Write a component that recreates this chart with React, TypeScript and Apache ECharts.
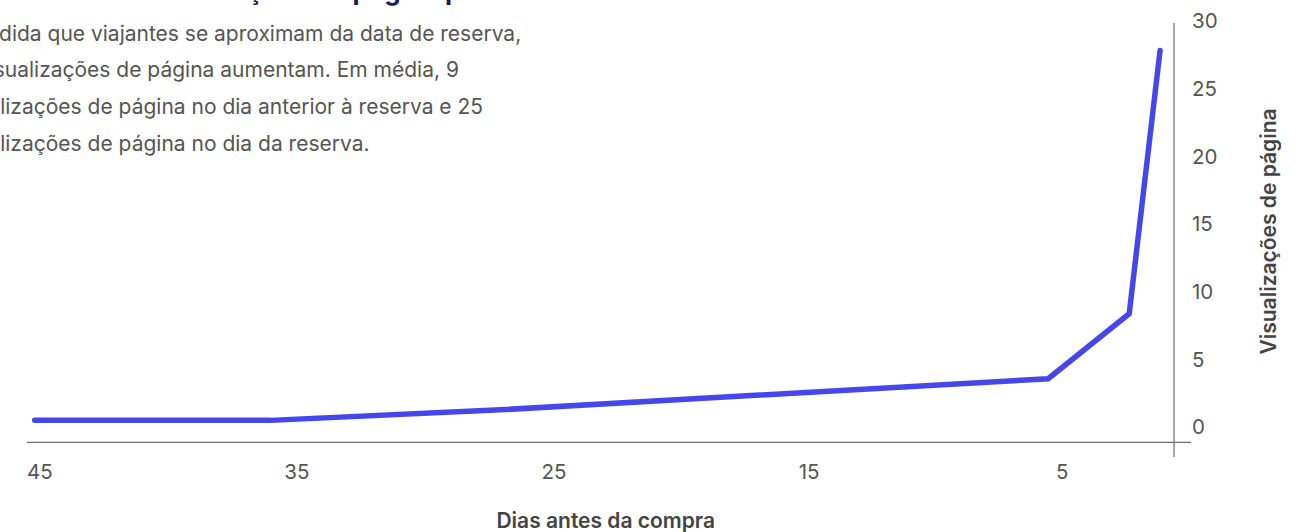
import { useEffect, useRef } from "react";
import * as echarts from "echarts";

// Page views by days before purchase
const daysBefore = [44.7, 35.55, 26.6, 5.3, 2.15, 0.95];
const pageViews = [0.47, 0.47, 1.25, 3.55, 8.35, 27.8];

const xTickValues = [45, 35, 25, 15, 5];
const yTickValues = [0, 5, 10, 15, 20, 25, 30];

const titleText = "Aumento nas visualizações de página por dia";
const bodyLines = [
  "À medida que viajantes se aproximam da data de reserva,",
  "as visualizações de página aumentam. Em média, 9",
  "visualizações de página no dia anterior à reserva e 25",
  "visualizações de página no dia da reserva.",
];
const xAxisName = "Dias antes da compra";
const yAxisName = "Visualizações de página";

const FONT = "Inter, 'Noto Sans', sans-serif";
const LINE_COLOR = "#4547EA";
const AXIS_COLOR = "#6b6b6b";
const LABEL_COLOR = "#555555";

export default function App() {
  const ref = useRef<HTMLDivElement>(null);

  useEffect(() => {
    if (!ref.current) return;
    const chart = echarts.init(ref.current, undefined, { renderer: "svg" });

    const bodyText = bodyLines.map((line, i) => ({
      type: "text",
      x: -52,
      y: 33 + i * 36.7,
      style: {
        text: line,
        fill: LABEL_COLOR,
        font: `400 21px ${FONT}`,
        verticalAlign: "middle",
        align: "left",
      },
    }));

    chart.setOption({
      animation: false,
      backgroundColor: "#ffffff",
      grid: {
        left: 27,
        right: 115.5,
        top: 20.7,
        bottom: 89.7,
        containLabel: false,
        outerBoundsMode: "none",
      },
      xAxis: {
        type: "value",
        inverse: true,
        min: 0,
        max: 45,
        axisLine: { show: false },
        axisTick: { show: false },
        splitLine: { show: false },
        axisLabel: {
          customValues: xTickValues,
          align: "left",
          margin: 19,
          fontSize: 20.5,
          fontFamily: FONT,
          color: LABEL_COLOR,
        },
        name: xAxisName,
        nameLocation: "middle",
        nameGap: 68,
        nameTextStyle: {
          fontSize: 21,
          fontWeight: 600,
          fontFamily: FONT,
          color: "#444444",
        },
      },
      yAxis: {
        type: "value",
        position: "right",
        min: -1.15,
        max: 30,
        axisLine: { show: false },
        axisTick: { show: false },
        splitLine: { show: false },
        axisLabel: {
          customValues: yTickValues,
          align: "left",
          margin: 7.5,
          fontSize: 20.5,
          fontFamily: FONT,
          color: LABEL_COLOR,
        },
        name: yAxisName,
        nameLocation: "middle",
        nameRotate: 90,
        nameGap: 73,
        nameTextStyle: {
          fontSize: 21,
          fontWeight: 600,
          fontFamily: FONT,
          color: "#444444",
        },
      },
      series: [
        {
          type: "line",
          data: daysBefore.map((d, i) => [d, pageViews[i]]),
          showSymbol: false,
          symbol: "none",
          clip: false,
          lineStyle: {
            color: LINE_COLOR,
            width: 5.5,
            cap: "round",
            join: "miter",
          },
        },
      ],
      graphic: [
        {
          type: "text",
          x: -40,
          y: 3,
          style: {
            text: titleText,
            fill: "#1b1b4d",
            font: `700 26px ${FONT}`,
            verticalAlign: "bottom",
            align: "left",
          },
        },
        ...bodyText,
        // axis frame lines, extended past the crossing point
        {
          type: "line",
          shape: { x1: 27, y1: 442.3, x2: 1191, y2: 442.3 },
          style: { stroke: AXIS_COLOR, lineWidth: 1.2 },
        },
        {
          type: "line",
          shape: { x1: 1174, y1: 23, x2: 1174, y2: 457 },
          style: { stroke: AXIS_COLOR, lineWidth: 1.2 },
        },
      ],
    });

    return () => chart.dispose();
  }, []);

  return (
    <div
      ref={ref}
      style={{ position: "absolute", left: 0, top: 0, width: 1300, height: 532 }}
    />
  );
}
